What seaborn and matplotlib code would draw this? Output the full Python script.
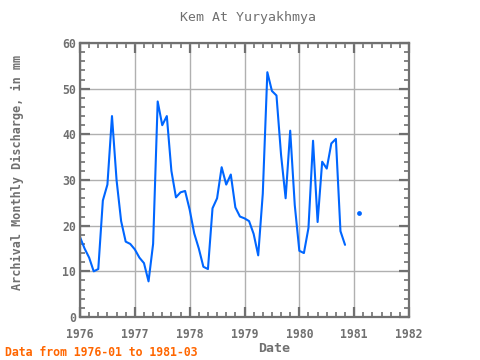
import numpy as np
import pandas as pd
import matplotlib
matplotlib.use("Agg")
import matplotlib.pyplot as plt
import seaborn as sns
from matplotlib.ticker import MultipleLocator

# ---- data (monthly, 1976-01 .. 1981-03) ----
start_year = 1976
discharge = [
    17.5, 15.0, 13.0, 10.0, 10.5, 25.5, 29.0, 44.0, 30.0, 21.0, 16.5, 16.0,   # 1976
    14.8, 13.0, 11.8, 7.8, 16.0, 47.2, 42.0, 44.0, 32.0, 26.2, 27.3, 27.6,    # 1977
    23.5, 18.3, 15.0, 11.0, 10.5, 23.8, 26.0, 32.8, 29.0, 31.2, 24.0, 22.0,   # 1978
    21.6, 21.0, 18.2, 13.5, 27.0, 53.6, 49.5, 48.5, 35.5, 26.0, 40.8, 24.5,   # 1979
    14.5, 14.0, 19.5, 38.6, 20.8, 34.0, 32.5, 38.0, 39.0, 18.8, 15.8, np.nan, # 1980
    np.nan, 22.8, np.nan,                                                     # 1981
]
title = "Kem At Yuryakhmya"
ylabel = "Archival Monthly Discharge, in mm"
xlabel = "Date"
footer = "Data from 1976-01 to 1981-03"
xticks = [1976, 1977, 1978, 1979, 1980, 1981, 1982]
yticks = [0, 10, 20, 30, 40, 50, 60]

vals = np.array(discharge, dtype=float)
t = start_year + np.arange(len(vals)) / 12.0
df = pd.DataFrame({"date": t, "value": vals})

# segments separated by NaN
seg = np.cumsum(np.isnan(vals))
df["seg"] = seg
df = df.dropna()
counts = df.groupby("seg")["value"].transform("size")
lines_df = df[counts > 1]
points_df = df[counts == 1]

blue = "#0066ff"
gray = "#707070"
mono = "DejaVu Sans Mono"

sns.set_style("white")
plt.rcParams["font.family"] = [mono, "DejaVu Sans"]

fig = plt.figure(figsize=(4.8, 3.6), dpi=100)
ax = fig.add_axes([80/480, 1-317/360, (409-80)/480, (317-43)/360])

sns.lineplot(data=lines_df, x="date", y="value", units="seg", estimator=None,
             color=blue, linewidth=1.5, ax=ax, legend=False)
sns.scatterplot(data=points_df, x="date", y="value", color=blue, s=12,
                edgecolor=blue, linewidth=0, ax=ax, legend=False)

ax.set_xlim(1976, 1982)
ax.set_ylim(0, 60)
ax.set_xticks(xticks)
ax.set_xticklabels([str(v) for v in xticks], fontweight="bold")
ax.set_yticks(yticks)
ax.set_yticklabels([str(v) for v in yticks], fontweight="bold")
ax.xaxis.set_minor_locator(MultipleLocator(2/12))
ax.yaxis.set_minor_locator(MultipleLocator(2))

ax.grid(True, which="major", color="#b0b0b0", linewidth=1.0)
ax.set_axisbelow(True)
for s in ax.spines.values():
    s.set_visible(True)
    s.set_color(gray)
    s.set_linewidth(1.6)

ax.tick_params(which="both", direction="in", top=True, right=True,
               bottom=True, left=True, colors=gray, labelcolor=gray)
ax.tick_params(which="major", length=7, width=1.6, labelsize=8.3)
ax.tick_params(which="minor", length=3.5, width=1.2)
ax.tick_params(axis="x", which="major", pad=8)
ax.tick_params(axis="y", which="major", pad=3)

ax.set_xlabel(xlabel, fontsize=9.5, color=gray, fontweight="bold")
ax.xaxis.set_label_coords((274.5-80)/329, (317-348)/274)
ax.xaxis.label.set_va("center")
ax.set_ylabel(ylabel, fontsize=8.5, color=gray, fontweight="bold")
ax.yaxis.set_label_coords((17-80)/329, (317-172)/274)
ax.yaxis.label.set_va("center")
fig.text(247.5/480, 1-18/360, title, ha="center", va="center", fontsize=9.5,
         color=gray, family=[mono, "DejaVu Sans"])
fig.text(5/480, 1-352/360, footer, ha="left", va="center", fontsize=8.3,
         color="#ff6600", fontweight="bold", family=[mono, "DejaVu Sans"])

fig.savefig("out.png", dpi=100)
